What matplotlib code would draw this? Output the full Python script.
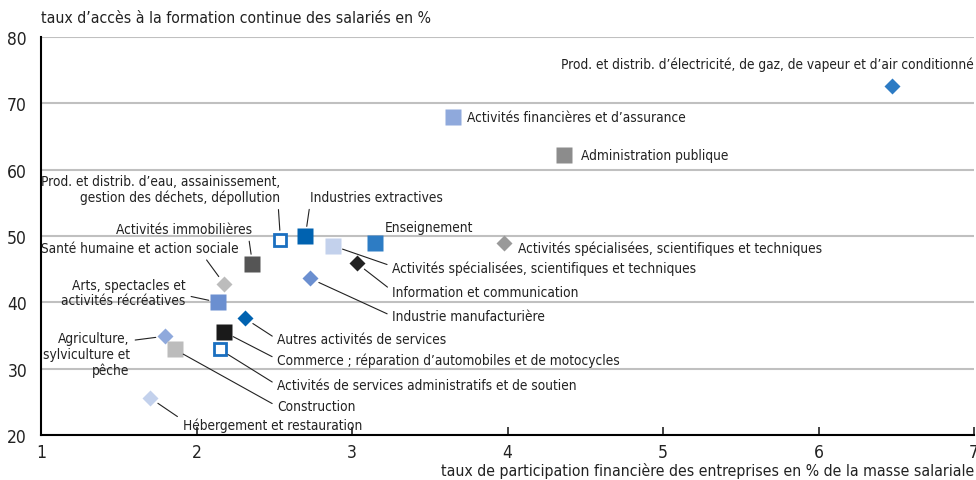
import matplotlib
matplotlib.use("Agg")
import matplotlib.pyplot as plt

plt.rcParams['font.family'] = ['DejaVu Sans']
plt.rcParams['font.stretch'] = 'condensed'

# données : taux de participation financière (x) et taux d'accès (y)
secteurs = [
    "Prod. et distrib. d\u2019électricité, de gaz, de vapeur et d\u2019air conditionné",
    "Activités financières et d\u2019assurance",
    "Administration publique",
    "Prod. et distrib. d\u2019eau, assainissement,\ngestion des déchets, dépollution",
    "Industries extractives",
    "Activités spécialisées, scientifiques et techniques",
    "Enseignement",
    "Activités spécialisées, scientifiques et techniques",
    "Information et communication",
    "Activités immobilières",
    "Santé humaine et action sociale",
    "Industrie manufacturière",
    "Arts, spectacles et\nactivités récréatives",
    "Autres activités de services",
    "Commerce ; réparation d\u2019automobiles et de motocycles",
    "Activités de services administratifs et de soutien",
    "Agriculture,\nsylviculture et\npêche",
    "Construction",
    "Hébergement et restauration",
]
participation = [6.47, 3.65, 4.36, 2.54, 2.70, 2.88, 3.15, 3.98, 3.03, 2.36,
                 2.18, 2.73, 2.14, 2.31, 2.18, 2.15, 1.80, 1.86, 1.70]
acces = [72.6, 67.9, 62.2, 49.4, 50.0, 48.5, 48.9, 48.9, 45.9, 45.8,
         42.7, 43.6, 40.0, 37.6, 35.5, 32.9, 34.9, 32.9, 25.6]

# style de chaque point : marqueur, couleur, plein ou vide
marqueurs = ['D', 's', 's', 's', 's', 's', 's', 'D', 'D', 's',
             'D', 'D', 's', 'D', 's', 's', 'D', 's', 'D']
couleurs = ['#2c7bc4', '#8fa9dc', '#8c8c8c', '#1a6fc0', '#0062b0', '#c3d1ec',
            '#2d7cc4', '#999999', '#222222', '#555555', '#bcbcbc', '#6b8fd0',
            '#6b8fd0', '#0062b0', '#1a1a1a', '#1a6fc0', '#8fa9dc', '#bcbcbc',
            '#c3d1ec']
vides = [False, False, False, True, False, False, False, False, False, False,
         False, False, False, False, False, True, False, False, False]

# position des étiquettes : (x, y, alignement, relpos du trait ou None)
etiquettes = [
    (7.0, 75.9, 'right', None),
    (3.74, 67.9, 'left', None),
    (4.47, 62.2, 'left', None),
    (2.54, 57.1, 'right', (0.99, 0.0)),
    (2.73, 55.9, 'left', (0.0, 0.0)),
    (3.26, 45.2, 'left', (0.0, 0.6)),
    (3.21, 51.3, 'left', None),
    (4.07, 48.3, 'left', None),
    (3.26, 41.5, 'left', (0.0, 0.6)),
    (2.36, 51.1, 'right', (0.97, 0.0)),
    (2.27, 48.2, 'right', (0.82, 0.0)),
    (3.26, 37.9, 'left', (0.0, 0.5)),
    (1.93, 41.5, 'right', (1.0, 0.4)),
    (2.52, 34.4, 'left', (0.0, 0.5)),
    (2.52, 31.4, 'left', (0.0, 0.5)),
    (2.52, 27.5, 'left', (0.0, 0.5)),
    (1.57, 32.2, 'right', (1.0, 0.79)),
    (2.52, 24.3, 'left', (0.0, 0.5)),
    (1.91, 21.6, 'left', (0.0, 0.8)),
]

fig = plt.figure(figsize=(9.76, 4.81), dpi=100)
ax = fig.add_axes([0.042, 0.0936, 0.956, 0.8274])

for x, y, m, c, v in zip(participation, acces, marqueurs, couleurs, vides):
    if m == 's':
        ms = 11
    else:
        ms = 8
    if v:
        ax.plot(x, y, m, ms=ms - 2, mfc='white', mec=c, mew=2, zorder=3)
    else:
        ax.plot(x, y, m, ms=ms, mfc=c, mec='none', zorder=3)

for nom, x, y, (tx, ty, ha, rp) in zip(secteurs, participation, acces, etiquettes):
    if rp is None:
        ax.text(tx, ty, nom, ha=ha, va='center', fontsize=9.8, color='#222222',
                linespacing=1.15)
    else:
        ax.annotate(nom, xy=(x, y), xytext=(tx, ty), ha=ha, va='center',
                    fontsize=9.8, color='#222222', linespacing=1.15,
                    arrowprops=dict(arrowstyle='-', color='#222222', lw=0.8,
                                    shrinkA=2, shrinkB=7, relpos=rp))

ax.set_xlim(1, 7)
ax.set_ylim(20, 80)
ax.set_yticks([20, 30, 40, 50, 60, 70, 80])
ax.set_xticks([1, 2, 3, 4, 5, 6, 7])
ax.grid(axis='y', color='#c0c0c0', lw=1.5)
ax.set_axisbelow(True)
ax.spines['right'].set_visible(False)
ax.spines['top'].set_visible(False)
ax.spines['left'].set_linewidth(1.5)
ax.spines['bottom'].set_linewidth(1.5)
ax.tick_params(axis='x', direction='in', length=6, width=1.2, labelsize=12.5,
               pad=6, colors='#222222')
ax.tick_params(axis='y', length=0, labelsize=12.5, pad=10, colors='#222222')

fig.text(0.042, 0.962, "taux d\u2019accès à la formation continue des salariés en %",
         ha='left', va='center', fontsize=11.3, color='#222222')
fig.text(0.998, 0.02, "taux de participation financière des entreprises en % de la masse salariale",
         ha='right', va='center', fontsize=11.3, color='#222222')

fig.savefig("out.png", dpi=100)
